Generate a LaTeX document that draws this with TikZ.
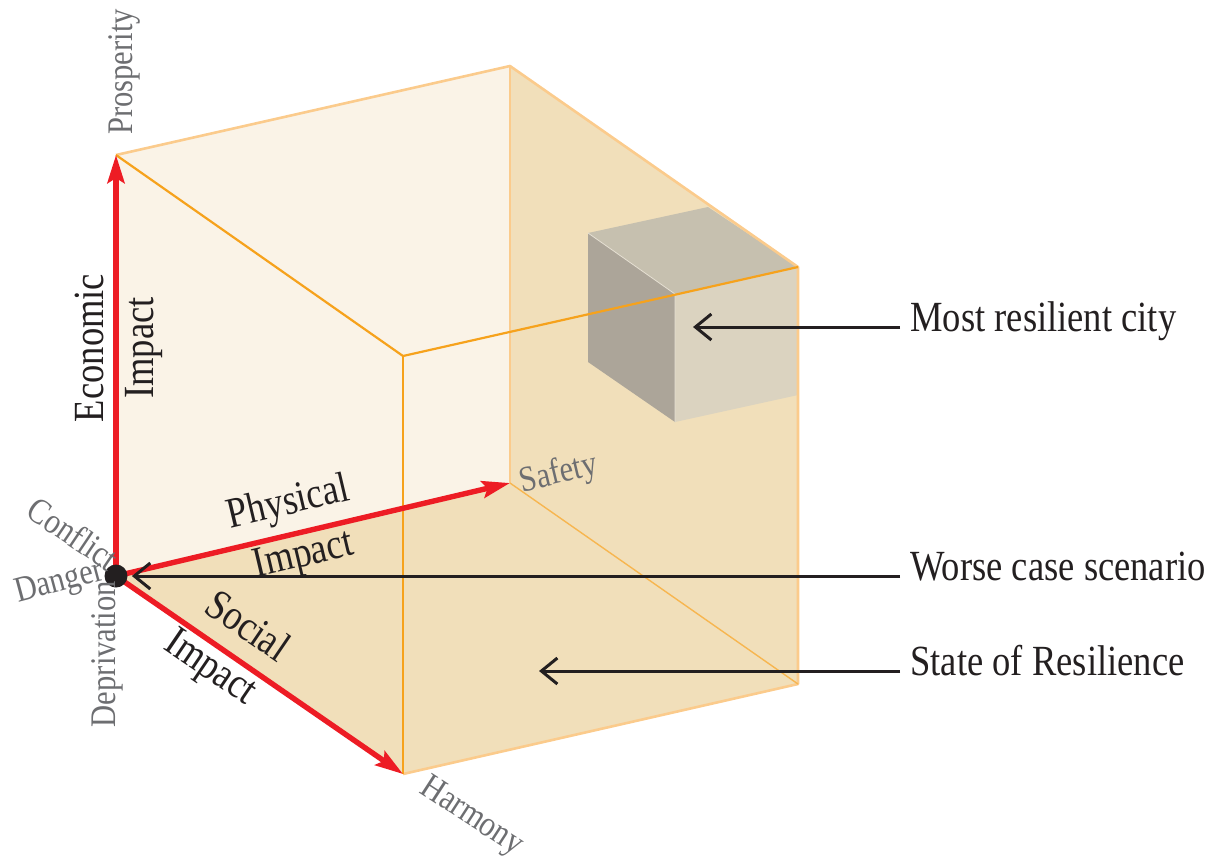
\documentclass[tikz,border=0pt]{standalone}
\usepackage{fontspec}
\setmainfont{Liberation Serif}[FakeStretch=0.85]
\usetikzlibrary{arrows.meta}
\definecolor{cream}{HTML}{FAF3E7}
\definecolor{tanface}{HTML}{F1DFBA}
\definecolor{orng}{HTML}{F6A21C}
\definecolor{paleorng}{HTML}{FBCB8C}
\definecolor{thinorng}{HTML}{F7B650}
\definecolor{axred}{HTML}{ED1C24}
\definecolor{txtgray}{HTML}{6D6E71}
\definecolor{txtblack}{HTML}{231F20}
\definecolor{cubetop}{HTML}{C6C0AF}
\definecolor{cubeleft}{HTML}{ACA599}
\definecolor{cuberight}{HTML}{DBD3C0}
\begin{document}
\begin{tikzpicture}[x=0.5pt,y=-0.5pt,
  big/.style={font=\fontsize{21.5}{24}\selectfont, text=txtblack, inner sep=0pt},
  sidelbl/.style={big, anchor=west, text height=0.7em, text depth=0.25em},
  poles/.style={font=\fontsize{18}{20}\selectfont, text=txtgray, inner sep=0pt, anchor=base},
  axis/.style={draw=axred, line width=2.7pt, -{Stealth[length=14pt,width=8.5pt,inset=2.5pt]}},
  pointer/.style={draw=txtblack, line width=1.5pt, -{Straight Barb[length=8pt,width=13pt]}},
  paleedge/.style={draw=paleorng, line width=1.3pt, line join=round},
  thinedge/.style={draw=thinorng, line width=0.7pt},
  edge/.style={draw=orng, line width=1.1pt, line join=round}]
\useasboundingbox (0,0) rectangle (1224,864);
% cube vertices
\coordinate (E) at (116,155);
\coordinate (P) at (510,483);
\coordinate (S) at (403,774);
\coordinate (EP) at (510,66);
\coordinate (ES) at (403,356);
\coordinate (SP) at (798,684);
\coordinate (ESP) at (798,267);
\coordinate (Oc) at (116,576);
% faces
\fill[cream] (Oc) -- (E) -- (EP) -- (P) -- cycle;
\fill[tanface] (P) -- (EP) -- (ESP) -- (SP) -- cycle;
\fill[tanface] (Oc) -- (S) -- (SP) -- (P) -- cycle;
% small cube
\coordinate (k1) at (798,267);
\coordinate (k2) at (675,294);
\coordinate (k3) at (588,233);
\coordinate (k4) at (708,207);
\coordinate (k5) at (588,362);
\coordinate (k6) at (675,422);
\coordinate (k7) at (798,395);
\fill[cubetop] (k3) -- (k4) -- (k1) -- (k2) -- cycle;
\fill[cubeleft] (k3) -- (k2) -- (k6) -- (k5) -- cycle;
\fill[cuberight] (k2) -- (k1) -- (k7) -- (k6) -- cycle;
\draw[cuberight!70!white, line width=0.4pt] (k3) -- (k2) -- (k6);
% edges
\draw[paleedge] (E) -- (EP) -- (ESP) -- (SP) -- (S);
\draw[paleedge, line width=0.9pt] (EP) -- (P);
\draw[thinedge] (P) -- (SP);
\draw[edge] (E) -- (ES) -- (ESP);
\draw[edge] (ES) -- (S);
% axes
\draw[axis] (Oc) -- (E);
\draw[axis] (Oc) -- (P);
\draw[axis] (Oc) -- (S);
% origin dot
\node[circle, fill=txtblack, minimum size=11.5pt, inner sep=0pt] (O) at (Oc) {};
% axis labels
\node[big, anchor=base, rotate=90] (econ) at (103,348) {Economic};
\node[big, anchor=base, rotate=90] (econimp) at (153,348) {Impact};
\node[big, anchor=base, rotate=13.3] (phys) at (291,514) {Physical};
\node[big, anchor=base, rotate=13.3] (physimp) at (306,566) {Impact};
\node[big, anchor=base, rotate=-34.3] (soc) at (240,637) {Social};
\node[big, anchor=base, rotate=-34.3] (socimp) at (204,677) {Impact};
% pole labels
\node[poles, rotate=90] (prosp) at (132,72) {Prosperity};
\node[poles, rotate=13.3] (safety) at (561,483) {Safety};
\node[poles, rotate=-33] (harmony) at (467,824) {Harmony};
\node[poles, rotate=-34] (conflict) at (66,544) {Conflict};
\node[poles, rotate=15] (danger) at (62,591) {Danger};
\node[poles, rotate=90] (depriv) at (115,654) {Deprivation};
% side labels and pointers
\node[sidelbl] (mrc) at (910,327) {Most resilient city};
\node[sidelbl] (wcs) at (910,576) {Worse case scenario};
\node[sidelbl] (sor) at (910,671) {State of Resilience};
\coordinate (tmrc) at (693,327);
\coordinate (tsor) at (539,671);
\draw[pointer] ([xshift=-5pt]mrc.west) -- (mrc.west -| tmrc);
\draw[pointer, shorten >=2pt] ([xshift=-5pt]wcs.west) -- (wcs.west -| O.east);
\draw[pointer] ([xshift=-5pt]sor.west) -- (sor.west -| tsor);
\end{tikzpicture}
\end{document}
